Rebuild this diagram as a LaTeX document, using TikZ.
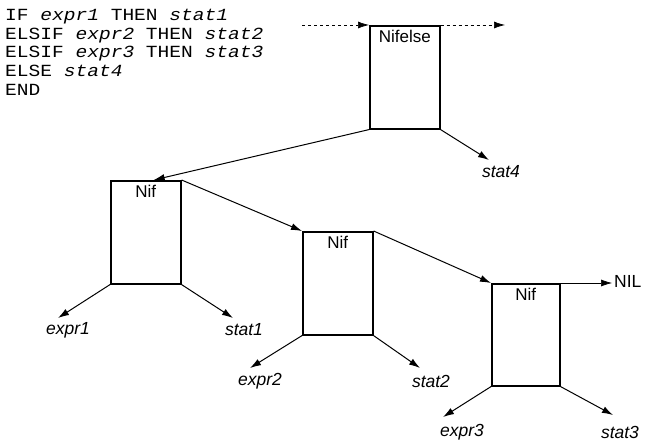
\documentclass[tikz,border=0pt]{standalone}
\usepackage{fontspec}
\setmainfont{Liberation Sans}
\newfontfamily\codefont[FakeStretch=1.15]{Liberation Mono}
\usetikzlibrary{arrows.meta,calc}
\tikzset{
  box/.style={draw, line width=1.6pt, minimum width=70pt, minimum height=103pt, anchor=north west, inner sep=0pt},
  boxlabel/.style={anchor=north, inner sep=0pt, font=\fontsize{17}{17}\selectfont, yshift=-4.5pt},
  arr/.style={draw, line width=1pt, -{Latex[length=11pt,width=7pt]}},
  darr/.style={arr, line width=0.7pt, dash pattern=on 3pt off 3pt},
  lbl/.style={inner sep=0pt, font=\fontsize{17.5}{17.5}\selectfont\itshape},
  code/.style={anchor=base west, inner sep=0pt, font=\fontsize{17}{17}\codefont}
}
\begin{document}
\begin{tikzpicture}[x=1pt,y=-1pt]
\useasboundingbox (0,0) rectangle (645,443);
% code
\node[code] (l1) at (5,21) {IF \textit{expr1} THEN \textit{stat1}};
\node[code] (l2) at (5,40) {ELSIF \textit{expr2} THEN \textit{stat2}};
\node[code] (l3) at (5,58) {ELSIF \textit{expr3} THEN \textit{stat3}};
\node[code] (l4) at (5,77) {ELSE \textit{stat4}};
\node[code] (l5) at (5,96) {END};
% boxes
\node[box] (n0) at (369,25) {};
\node[boxlabel] (t0) at (n0.north) {Nifelse};
\node[box] (n1) at (110,180) {};
\node[boxlabel] (t1) at (n1.north) {Nif};
\node[box] (n2) at (302,231) {};
\node[boxlabel] (t2) at (n2.north) {Nif};
\node[box, minimum width=68pt, minimum height=102pt] (n3) at (491,283) {};
\node[boxlabel] (t3) at (n3.north) {Nif};
% dashed in/out
\coordinate (din) at (302,25);
\coordinate (dout) at (505,25);
\draw[darr] (din) -- (n0.north west);
\draw[darr] (n0.north east) -- (dout);
% links
\coordinate (n1in) at ($(n1.north west)!0.61!(n1.north east)$);
\draw[arr] (n0.south west) -- (n1in);
\draw[arr] (n1.north east) -- (n2.north west);
\draw[arr] (n2.north east) -- (n3.north west);
% NIL
\coordinate (nilend) at (612,283);
\node[inner sep=0pt, anchor=west, font=\fontsize{17.5}{17.5}\selectfont] (nil) at (614,281) {NIL};
\draw[arr, line width=0.6pt] (n3.north east) -- (nilend);
% leaves
\coordinate (e4) at (489,160);
\node[lbl] (s4) at (501,172) {stat4};
\draw[arr] (n0.south east) -- (e4);

\coordinate (ex1) at (58,318);
\node[lbl] (x1) at (68,330) {expr1};
\draw[arr] (n1.south west) -- (ex1);
\coordinate (es1) at (233,318);
\node[lbl] (s1) at (244,330) {stat1};
\draw[arr] (n1.south east) -- (es1);

\coordinate (ex2) at (250,368);
\node[lbl] (x2) at (260,381) {expr2};
\draw[arr] (n2.south west) -- (ex2);
\coordinate (es2) at (420,368);
\node[lbl] (s2) at (431,381) {stat2};
\draw[arr] (n2.south east) -- (es2);

\coordinate (ex3) at (443,417);
\node[lbl] (x3) at (462,432) {expr3};
\draw[arr] (n3.south west) -- (ex3);
\coordinate (es3) at (613,415);
\node[lbl] (s3) at (620,432) {stat3};
\draw[arr] (n3.south east) -- (es3);
\end{tikzpicture}
\end{document}
